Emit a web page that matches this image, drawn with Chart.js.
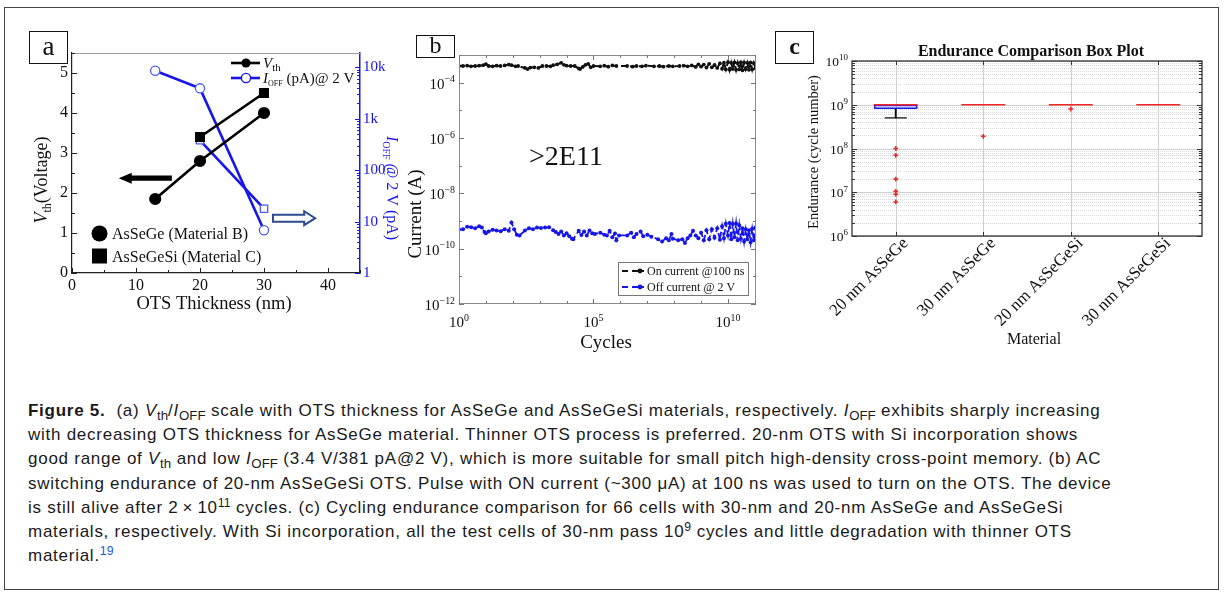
<!DOCTYPE html>
<html>
<head>
<meta charset="utf-8">
<script src="https://cdn.jsdelivr.net/npm/chart.js@4.4.1/dist/chart.umd.min.js"></script>
<style>
  body { margin: 0; background: #fff; }
  #fig { position: relative; width: 1227px; height: 596px; overflow: hidden; background: #fff; }
  #frame { position: absolute; left: 4px; top: 7px; width: 1213px; height: 581px; border: 1.5px solid #444; }
  canvas { position: absolute; }
  .tag { position: absolute; box-sizing: border-box; border: 1.3px solid #111; text-align: center;
         font-family: "Liberation Serif", serif; color: #111; }
  #caption { position: absolute; left: 28px; top: 399px; font-family: "Liberation Sans", Arial, sans-serif;
             font-size: 17px; letter-spacing: 0.74px; line-height: 24.2px; color: #1a1a1a; white-space: nowrap; }
  #caption sub { font-size: 0.78em; vertical-align: baseline; position: relative; top: 0.3em; line-height: 0; letter-spacing: 0; }
  #caption sup { font-size: 0.72em; vertical-align: baseline; position: relative; top: -0.5em; line-height: 0; letter-spacing: 0; }
  #caption .ref { color: #2255dd; }
</style>
</head>
<body>
<div id="fig">
  <div id="frame"></div>
  <canvas id="chartA" width="390" height="300" style="left:10px;top:20px"></canvas>
  <canvas id="chartB" width="370" height="340" style="left:400px;top:20px"></canvas>
  <canvas id="chartC" width="457" height="340" style="left:770px;top:20px"></canvas>
  <div class="tag" style="left:29px;top:31px;width:39px;height:33px;font-size:27px;line-height:28px">a</div>
  <div class="tag" style="left:416px;top:35px;width:39px;height:23px;font-size:24px;line-height:19px">b</div>
  <div class="tag" style="left:775px;top:31px;width:39px;height:33px;font-size:24px;line-height:29px;font-weight:bold">c</div>
  <div id="caption"><b>Figure 5.</b>&nbsp; (a) <i>V</i><sub>th</sub>/<i>I</i><sub>OFF</sub> scale with OTS thickness for AsSeGe and AsSeGeSi materials, respectively. <i>I</i><sub>OFF</sub> exhibits sharply increasing<br>with decreasing OTS thickness for AsSeGe material. Thinner OTS process is preferred. 20-nm OTS with Si incorporation shows<br>good range of <i>V</i><sub>th</sub> and low <i>I</i><sub>OFF</sub> (3.4 V/381 pA@2 V), which is more suitable for small pitch high-density cross-point memory. (b) AC<br>switching endurance of 20-nm AsSeGeSi OTS. Pulse with ON current (~300 μA) at 100 ns was used to turn on the OTS. The device<br>is still alive after 2&thinsp;×&thinsp;10<sup>11</sup> cycles. (c) Cycling endurance comparison for 66 cells with 30-nm and 20-nm AsSeGe and AsSeGeSi<br>materials, respectively. With Si incorporation, all the test cells of 30-nm pass 10<sup>9</sup> cycles and little degradation with thinner OTS<br>material.<sup class="ref">19</sup></div>
</div>

<script>
const SERIF = '"Liberation Serif", "Times New Roman", serif';
const BLUE = '#1616e8';
Chart.defaults.font.family = SERIF;
Chart.defaults.animation = false;

// ---------- (a) Vth / Ioff vs OTS thickness
const thickB = [13, 20, 30];          // AsSeGe (Material B)
const vthB = [1.85, 2.8, 4.0];
const ioffB = [8600, 3900, 6.8];      // pA
const thickC = [20, 30];              // AsSeGeSi (Material C)
const vthC = [3.4, 4.5];
const ioffC = [381, 17.8];
const aXTicks = [0, 10, 20, 30, 40];
const aYTicks = [0, 1, 2, 3, 4, 5];
const aY2Ticks = [1, 10, 100, 1000, 10000];
const aY2Labels = ['1', '10', '100', '1k', '10k'];

// ---------- (b) AC switching endurance
const onCycles = [1, 1.4, 2, 2.8, 4, 5.6, 8, 10, 12.6, 17.8, 25, 35, 50, 71, 89, 126, 158,
  282, 355, 447, 631, 891, 1.26e3, 1.78e3, 2.51e3, 3.16e3, 4.47e3, 6.31e3, 7.94e3, 1e4, 1.41e4, 2e4, 2.82e4, 3.16e4, 3.98e4, 5.01e4, 6.31e4, 7.94e4, 1e5,
  1.78e5, 2.51e5, 3.55e5, 5.01e5, 7.08e5,
  1.78e6, 2.82e6, 3.98e6, 6.31e6, 8.91e6,
  1.78e7, 2.82e7, 3.98e7, 6.31e7, 8.91e7,
  1.58e8, 2.24e8, 3.16e8, 4.47e8, 6.31e8, 7.94e8,
  1e9, 1.26e9, 1.58e9, 2e9, 2.51e9, 3.16e9, 3.98e9, 5.01e9, 6.03e9, 7.08e9, 8.32e9,
  1e10, 1.15e10, 1.32e10, 1.51e10, 1.74e10, 2e10, 2.29e10, 2.63e10, 3.02e10, 3.47e10, 3.98e10, 4.57e10, 5.25e10, 6.03e10, 6.92e10, 7.94e10, 9.12e10, 1.05e11];
const onCurrent = [4.0e-4, 4.0e-4, 4.1e-4, 3.9e-4, 4.0e-4, 4.1e-4, 4.3e-4, 4.7e-4, 4.0e-4, 3.9e-4, 4.1e-4, 4.0e-4, 4.2e-4, 4.5e-4, 4.3e-4, 3.9e-4, 4.0e-4,
  3.4e-4, 3.1e-4, 3.5e-4, 3.6e-4, 3.4e-4, 4.0e-4, 4.0e-4, 3.9e-4, 4.3e-4, 4.6e-4, 5.2e-4, 4.4e-4, 4.1e-4, 4.0e-4, 4.0e-4, 3.3e-4, 3.1e-4, 3.7e-4, 4.4e-4, 4.8e-4, 3.6e-4, 4.0e-4,
  3.9e-4, 4.1e-4, 3.8e-4, 4.2e-4, 4.0e-4,
  4.0e-4, 3.8e-4, 4.0e-4, 3.9e-4, 4.1e-4,
  3.9e-4, 4.0e-4, 3.8e-4, 4.0e-4, 3.9e-4,
  4.0e-4, 4.1e-4, 3.9e-4, 4.2e-4, 3.7e-4, 4.6e-4,
  3.8e-4, 4.5e-4, 3.5e-4, 4.8e-4, 3.6e-4, 4.4e-4, 3.4e-4, 5.0e-4, 3.2e-4, 5.3e-4, 3.0e-4,
  5.5e-4, 2.9e-4, 5.2e-4, 3.1e-4, 5.4e-4, 2.9e-4, 5.1e-4, 3.0e-4, 5.5e-4, 2.8e-4, 5.3e-4, 3.1e-4, 5.2e-4, 2.9e-4, 5.4e-4, 3.0e-4, 5.1e-4, 3.3e-4];
const offCycles = [1, 1.41, 2, 2.82, 3.98, 5.62, 7.08, 8.91, 10, 12.6, 17.8, 25.1, 35.5, 50.1, 70.8, 89.1, 112, 141, 178,
  282, 398, 562, 794, 1.12e3, 1.58e3, 2.24e3, 3.16e3, 3.98e3, 5.01e3, 6.31e3, 7.94e3, 1e4, 1.26e4, 1.58e4, 1.78e4,
  2.82e4, 3.55e4, 4.47e4, 5.62e4, 7.08e4, 8.91e4, 1.12e5,
  1.78e5, 2.51e5, 3.16e5, 3.98e5, 5.01e5, 6.31e5, 7.08e5, 8.91e5,
  1.78e6, 2.51e6, 3.16e6, 3.98e6, 5.62e6, 7.08e6, 1e7, 1.41e7,
  2.51e7, 3.55e7, 5.01e7, 6.31e7, 7.94e7, 8.91e7,
  1.41e8, 2e8, 2.51e8, 3.16e8, 3.98e8, 5.01e8, 6.31e8, 7.94e8,
  1e9, 1.26e9, 1.58e9, 2e9, 2.51e9, 3.16e9, 3.98e9, 5.01e9, 6.03e9, 7.08e9, 8.32e9, 1e10, 1.15e10, 1.32e10, 1.51e10, 1.74e10,
  2e10, 2.29e10, 2.63e10, 3.02e10, 3.47e10, 3.98e10, 4.57e10, 5.25e10, 6.03e10, 6.92e10, 7.94e10, 9.12e10, 1.05e11];
const offCurrent = [4.9e-10, 5.0e-10, 6.2e-10, 6.0e-10, 5.5e-10, 6.5e-10, 5.8e-10, 4.0e-10, 3.6e-10, 4.2e-10, 4.8e-10, 4.5e-10, 4.3e-10, 5.0e-10, 4.4e-10, 8.8e-10, 5.0e-10, 3.2e-10, 3.0e-10,
  4.5e-10, 5.5e-10, 5.0e-10, 5.8e-10, 5.6e-10, 5.8e-10, 5.9e-10, 4.6e-10, 4.0e-10, 3.4e-10, 4.2e-10, 3.0e-10, 3.6e-10, 2.8e-10, 2.3e-10, 2.2e-10,
  4.4e-10, 3.1e-10, 4.2e-10, 3.0e-10, 4.5e-10, 3.6e-10, 3.4e-10,
  3.8e-10, 3.2e-10, 3.0e-10, 4.4e-10, 2.6e-10, 3.5e-10, 2.0e-10, 3.0e-10,
  3.0e-10, 3.8e-10, 2.6e-10, 3.4e-10, 4.2e-10, 2.8e-10, 3.2e-10, 2.7e-10,
  2.2e-10, 1.8e-10, 2.4e-10, 2.0e-10, 3.4e-10, 2.3e-10,
  2.0e-10, 2.2e-10, 1.6e-10, 2.4e-10, 3.0e-10, 4.4e-10, 3.0e-10, 2.4e-10,
  3.8e-10, 2.0e-10, 4.6e-10, 2.2e-10, 5.0e-10, 2.5e-10, 5.5e-10, 2.1e-10, 6.5e-10, 2.4e-10, 8.0e-10, 3.0e-10, 8.5e-10, 2.2e-10, 7.8e-10, 2.6e-10,
  8.2e-10, 2.0e-10, 7.0e-10, 2.3e-10, 5.5e-10, 1.8e-10, 5.0e-10, 2.2e-10, 4.6e-10, 1.7e-10, 5.2e-10, 2.0e-10, 5.8e-10];
const bXTicks = [1, 1e5, 1e10];
const bXLabels = ['0', '5', '10'];
const bYTicks = [1e-12, 1e-10, 1e-8, 1e-6, 1e-4];
const bYLabels = ['\u221212', '\u221210', '\u22128', '\u22126', '\u22124'];

// ---------- (c) endurance box plot
const materials = ['20 nm AsSeGe', '30 nm AsSeGe', '20 nm AsSeGeSi', '30 nm AsSeGeSi'];
const boxLow = [8e8, 1e9, 1e9, 1e9];
const boxHigh = [1e9, 1e9, 1e9, 1e9];
const medians = [1e9, 1e9, 1e9, 1e9];
const whiskerLow = [5e8, 1e9, 1e9, 1e9];
const outliers = [[1e8, 7e7, 2e7, 1.05e7, 9e6, 6e6], [1.9e8], [8e8], []];
const cYTicks = [1e6, 1e7, 1e8, 1e9, 1e10];
const cYLabels = ['6', '7', '8', '9', '10'];

// ---------- helpers
function pts(xs, ys) { return xs.map((x, i) => ({ x: x, y: ys[i] })); }
function T(t, size, style, dy) { return { t: t, size: size, style: style || '', dy: dy || 0 }; }

function rich(ctx, parts, x, y, opt) {
  opt = opt || {};
  ctx.save();
  ctx.translate(x, y);
  if (opt.rot) ctx.rotate(opt.rot);
  ctx.fillStyle = opt.color || '#111';
  ctx.textAlign = 'left';
  ctx.textBaseline = 'alphabetic';
  const fonts = parts.map(p => p.style + ' ' + p.size + 'px ' + SERIF);
  let total = 0;
  const ws = parts.map((p, i) => { ctx.font = fonts[i]; const w = ctx.measureText(p.t).width; total += w; return w; });
  let cx = opt.align === 'center' ? -total / 2 : opt.align === 'right' ? -total : 0;
  parts.forEach((p, i) => { ctx.font = fonts[i]; ctx.fillText(p.t, cx, p.dy); cx += ws[i]; });
  ctx.restore();
}

function pow10(ctx, exp, x, y, align, size) {
  rich(ctx, [T('10', size), T(exp, size * 0.66, '', -size * 0.42)], x, y, { align: align });
}

function inTicks(ctx, scale, area, vals, len, sides, color, w) {
  ctx.save();
  ctx.strokeStyle = color;
  ctx.lineWidth = w || 1;
  ctx.beginPath();
  vals.forEach(v => {
    const p = Math.round(scale.getPixelForValue(v)) + 0.5;
    sides.forEach(s => {
      if (s === 'bottom') { ctx.moveTo(p, area.bottom); ctx.lineTo(p, area.bottom - len); }
      if (s === 'top') { ctx.moveTo(p, area.top); ctx.lineTo(p, area.top + len); }
      if (s === 'left') { ctx.moveTo(area.left, p); ctx.lineTo(area.left + len, p); }
      if (s === 'right') { ctx.moveTo(area.right, p); ctx.lineTo(area.right - len, p); }
    });
  });
  ctx.stroke();
  ctx.restore();
}

function logMinors(decades, max) {
  const out = [];
  decades.forEach(d => { for (let k = 2; k <= 9; k++) if (d * k <= max) out.push(d * k); });
  return out;
}

const setTicks = vals => s => { s.ticks = vals.map(v => ({ value: v })); };

// ================= chart (a)
const panelA = {
  id: 'panelA',
  afterDraw(chart) {
    const { ctx, chartArea: a, scales: { x, y, y2 } } = chart;
    ctx.save();
    ctx.strokeStyle = '#9a9a9a';
    ctx.lineWidth = 1;
    ctx.beginPath(); ctx.moveTo(a.left, a.top + 0.5); ctx.lineTo(a.right, a.top + 0.5); ctx.stroke();
    ctx.restore();

    inTicks(ctx, x, a, aXTicks, 5, ['bottom'], '#222');
    inTicks(ctx, x, a, aXTicks.map(v => v + 5), 3, ['bottom'], '#222');
    inTicks(ctx, y, a, aYTicks, 5, ['left'], '#222');
    inTicks(ctx, y, a, aYTicks.map(v => v + 0.5), 3, ['left'], '#222');
    inTicks(ctx, y2, a, aY2Ticks, 5, ['right'], BLUE, 1.2);
    inTicks(ctx, y2, a, logMinors(aY2Ticks, y2.max), 3, ['right'], BLUE, 1);

    // black arrow pointing to the left axis
    const bx1 = x.getPixelForValue(7.3), bx2 = x.getPixelForValue(15.6), by = y.getPixelForValue(2.37);
    ctx.save();
    ctx.fillStyle = '#000';
    ctx.beginPath();
    ctx.moveTo(bx1, by); ctx.lineTo(bx1 + 13, by - 5.5); ctx.lineTo(bx1 + 13, by - 2.6);
    ctx.lineTo(bx2, by - 2.6); ctx.lineTo(bx2, by + 2.6); ctx.lineTo(bx1 + 13, by + 2.6);
    ctx.lineTo(bx1 + 13, by + 5.5); ctx.closePath(); ctx.fill();
    // hollow blue arrow pointing to the right axis
    const rx1 = x.getPixelForValue(31.4), rx2 = x.getPixelForValue(38), ry = y.getPixelForValue(1.37);
    ctx.strokeStyle = '#2c4a8c'; ctx.fillStyle = '#fff'; ctx.lineWidth = 2;
    ctx.beginPath();
    ctx.moveTo(rx1, ry - 3.5); ctx.lineTo(rx2 - 11, ry - 3.5); ctx.lineTo(rx2 - 11, ry - 7);
    ctx.lineTo(rx2, ry); ctx.lineTo(rx2 - 11, ry + 7); ctx.lineTo(rx2 - 11, ry + 3.5);
    ctx.lineTo(rx1, ry + 3.5); ctx.closePath(); ctx.fill(); ctx.stroke();
    ctx.restore();

    // annotations in page coordinates
    ctx.save();
    ctx.translate(-10, -20);
    // top-right legend
    ctx.lineWidth = 2.6;
    ctx.strokeStyle = '#000';
    ctx.beginPath(); ctx.moveTo(231, 63); ctx.lineTo(260, 63); ctx.stroke();
    ctx.fillStyle = '#000';
    ctx.beginPath(); ctx.arc(246, 63, 4.6, 0, Math.PI * 2); ctx.fill();
    rich(ctx, [T('V', 15, 'italic'), T('th', 11, '', 3)], 263, 68, { color: '#111' });
    ctx.strokeStyle = BLUE;
    ctx.beginPath(); ctx.moveTo(231, 78); ctx.lineTo(260, 78); ctx.stroke();
    ctx.fillStyle = '#fff'; ctx.lineWidth = 1.4;
    ctx.beginPath(); ctx.arc(246, 78, 4.6, 0, Math.PI * 2); ctx.fill(); ctx.stroke();
    rich(ctx, [T('I', 15, 'italic'), T('OFF', 8, '', 3), T(' (pA)@ 2 V', 15)], 263, 83, { color: '#111' });
    // bottom-left legend
    ctx.fillStyle = '#000';
    ctx.beginPath(); ctx.arc(99.5, 233.5, 8, 0, Math.PI * 2); ctx.fill();
    ctx.fillRect(92, 248.5, 15, 15);
    rich(ctx, [T('AsSeGe (Material B)', 16)], 112, 239, { color: '#111' });
    rich(ctx, [T('AsSeGeSi (Material C)', 16)], 112, 261.5, { color: '#111' });
    // axis titles
    rich(ctx, [T('OTS Thickness (nm)', 18.5)], 214, 309, { align: 'center', color: '#111' });
    rich(ctx, [T('V', 18, 'italic'), T('th', 12, '', 4), T('(Voltage)', 18)], 46.5, 180, { align: 'center', rot: -Math.PI / 2, color: '#111' });
    rich(ctx, [T('I', 16, 'italic'), T('OFF', 10, '', 4), T(' @ 2 V (pA)', 16)], 387, 188, { align: 'center', rot: Math.PI / 2, color: BLUE });
    ctx.restore();
  }
};

new Chart(document.getElementById('chartA'), {
  type: 'line',
  data: {
    datasets: [
      { data: pts(thickB, vthB), yAxisID: 'y', borderColor: '#000', borderWidth: 2.6,
        pointStyle: 'circle', pointRadius: 4.8, pointBackgroundColor: '#000', pointBorderColor: '#000' },
      { data: pts(thickC, vthC), yAxisID: 'y', borderColor: '#000', borderWidth: 2.6,
        pointStyle: 'rect', pointRadius: 5.2, pointBackgroundColor: '#000', pointBorderColor: '#000' },
      { data: pts(thickB, ioffB), yAxisID: 'y2', borderColor: BLUE, borderWidth: 2.6,
        pointStyle: 'circle', pointRadius: 4.6, pointBackgroundColor: '#fff', pointBorderColor: '#4a5af0', pointBorderWidth: 1.3 },
      { data: pts(thickC, ioffC), yAxisID: 'y2', borderColor: BLUE, borderWidth: 2.6,
        pointStyle: 'rect', pointRadius: 5.2, pointBackgroundColor: '#fff', pointBorderColor: '#4a5af0', pointBorderWidth: 1.3 }
    ]
  },
  options: {
    responsive: false,
    layout: { padding: { top: 33, left: 0, right: 0, bottom: 0 } },
    plugins: { legend: { display: false }, tooltip: { enabled: false } },
    scales: {
      x: {
        type: 'linear', min: 0, max: 45, afterBuildTicks: setTicks(aXTicks), afterFit: s => { s.height = 47; },
        grid: { display: true, drawOnChartArea: false, drawTicks: false },
        border: { color: '#222', width: 1.2 },
        ticks: { color: '#111', font: { size: 16 }, padding: 3, maxRotation: 0 }
      },
      y: {
        type: 'linear', position: 'left', min: 0, max: 5.5, afterBuildTicks: setTicks(aYTicks), afterFit: s => { s.width = 62; },
        grid: { display: true, drawOnChartArea: false, drawTicks: false },
        border: { color: '#222', width: 1.2 },
        ticks: { color: '#111', font: { size: 16 }, padding: 4 }
      },
      y2: {
        type: 'logarithmic', position: 'right', min: 1, max: 19000, afterBuildTicks: setTicks(aY2Ticks), afterFit: s => { s.width = 40; },
        grid: { display: true, drawOnChartArea: false, drawTicks: false },
        border: { color: BLUE, width: 1.5 },
        ticks: { color: BLUE, font: { size: 15 }, padding: 3, callback: v => aY2Labels[aY2Ticks.indexOf(v)] }
      }
    }
  },
  plugins: [panelA]
});

// ================= chart (b)
const panelB = {
  id: 'panelB',
  afterDraw(chart) {
    const { ctx, chartArea: a, scales: { x, y } } = chart;
    ctx.save();
    ctx.strokeStyle = '#8c8c8c'; ctx.lineWidth = 1;
    ctx.strokeRect(a.left + 0.5, a.top + 0.5, a.width - 1, a.height - 1);
    ctx.restore();
    const yMinor = [1e-11, 1e-9, 1e-7, 1e-5, 1e-3];
    const xMinor = [];
    for (let e = 1; e <= 11; e++) if (e % 5 !== 0) xMinor.push(Math.pow(10, e));
    inTicks(ctx, y, a, bYTicks, 5, ['left', 'right'], '#777');
    inTicks(ctx, y, a, yMinor, 3, ['left', 'right'], '#777');
    inTicks(ctx, x, a, bXTicks, 5, ['bottom', 'top'], '#777');
    inTicks(ctx, x, a, xMinor, 3, ['bottom', 'top'], '#777');

    bYTicks.forEach((v, i) => pow10(ctx, bYLabels[i], a.left - 4, y.getPixelForValue(v) + 6, 'right', 15));
    bXTicks.forEach((v, i) => pow10(ctx, bXLabels[i], x.getPixelForValue(v), a.bottom + 23, 'center', 15));

    ctx.save();
    ctx.translate(-400, -20);
    rich(ctx, [T('Cycles', 19)], 606, 348, { align: 'center' });
    rich(ctx, [T('Current (A)', 19)], 421, 214, { align: 'center', rot: -Math.PI / 2 });
    rich(ctx, [T('>2E11', 28)], 566, 165, { align: 'center' });
    // legend
    ctx.fillStyle = '#fff'; ctx.strokeStyle = '#777'; ctx.lineWidth = 1;
    ctx.fillRect(618, 262, 130, 33); ctx.strokeRect(618.5, 262.5, 130, 33);
    [['#111', 'On current @100 ns', 271], [BLUE, 'Off current @ 2 V', 287]].forEach(r => {
      ctx.strokeStyle = r[0]; ctx.fillStyle = r[0]; ctx.lineWidth = 2;
      ctx.beginPath(); ctx.moveTo(622, r[2]); ctx.lineTo(628, r[2]); ctx.moveTo(632, r[2]); ctx.lineTo(644, r[2]); ctx.stroke();
      ctx.beginPath(); ctx.arc(640, r[2], 2.4, 0, Math.PI * 2); ctx.fill();
      rich(ctx, [T(r[1], 12)], 647, r[2] + 4, {});
    });
    ctx.restore();
  }
};

new Chart(document.getElementById('chartB'), {
  type: 'line',
  data: {
    datasets: [
      { data: pts(onCycles, onCurrent), borderColor: '#111', borderWidth: 2, borderDash: [6, 3],
        pointRadius: 1.9, pointBackgroundColor: '#111', pointBorderWidth: 0 },
      { data: pts(offCycles, offCurrent), borderColor: BLUE, borderWidth: 1.8, borderDash: [6, 3],
        pointRadius: 2, pointBackgroundColor: BLUE, pointBorderWidth: 0 }
    ]
  },
  options: {
    responsive: false,
    layout: { padding: { top: 35, left: 0, right: 14, bottom: 0 } },
    plugins: { legend: { display: false }, tooltip: { enabled: false } },
    scales: {
      x: {
        type: 'logarithmic', min: 1, max: 1.1e11, afterBuildTicks: setTicks(bXTicks), afterFit: s => { s.height = 56; },
        grid: { display: false }, border: { display: false }, ticks: { display: false }
      },
      y: {
        type: 'logarithmic', min: 1e-12, max: 1e-3, afterBuildTicks: setTicks(bYTicks), afterFit: s => { s.width = 59; },
        grid: { display: false }, border: { display: false }, ticks: { display: false }
      }
    }
  },
  plugins: [panelB]
});

// ================= chart (c)
const panelC = {
  id: 'panelC',
  beforeDatasetsDraw(chart) {
    const { ctx, chartArea: a, scales: { x, y } } = chart;
    ctx.save();
    ctx.lineWidth = 1;
    ctx.strokeStyle = '#d9d9d9';
    ctx.setLineDash([1, 1]);
    ctx.beginPath();
    logMinors(cYTicks.slice(0, -1), 1e10).forEach(v => {
      const p = Math.round(y.getPixelForValue(v)) + 0.5;
      ctx.moveTo(a.left, p); ctx.lineTo(a.right, p);
    });
    ctx.stroke();
    ctx.setLineDash([]);
    ctx.strokeStyle = '#cfcfcf';
    ctx.beginPath();
    cYTicks.forEach(v => {
      const p = Math.round(y.getPixelForValue(v)) + 0.5;
      ctx.moveTo(a.left, p); ctx.lineTo(a.right, p);
    });
    materials.forEach((m, i) => {
      const p = Math.round(x.getPixelForValue(i)) + 0.5;
      ctx.moveTo(p, a.top); ctx.lineTo(p, a.bottom);
    });
    ctx.stroke();
    ctx.restore();
  },
  afterDraw(chart) {
    const { ctx, chartArea: a, scales: { x, y } } = chart;
    ctx.save();
    ctx.strokeStyle = '#333'; ctx.lineWidth = 1.3;
    ctx.strokeRect(a.left, a.top, a.width, a.height);
    ctx.restore();
    const idx = materials.map((m, i) => i);
    inTicks(ctx, y, a, cYTicks, 5, ['left', 'right'], '#333');
    inTicks(ctx, y, a, logMinors(cYTicks.slice(0, -1), 1e10), 3, ['left', 'right'], '#333');
    inTicks(ctx, x, a, idx, 4, ['bottom', 'top'], '#333');

    cYTicks.forEach((v, i) => pow10(ctx, cYLabels[i], a.left - 4, y.getPixelForValue(v) + 5, 'right', 13.5));
    materials.forEach((m, i) => {
      rich(ctx, [T(m, 17)], x.getPixelForValue(i) + 13, a.bottom + 8, { align: 'right', rot: -Math.PI / 4 });
    });

    ctx.save();
    ctx.translate(-770, -20);
    rich(ctx, [T('Endurance Comparison Box Plot', 16, 'bold')], 1031, 56, { align: 'center' });
    rich(ctx, [T('Endurance (cycle number)', 14.5)], 818, 152, { align: 'center', rot: -Math.PI / 2 });
    rich(ctx, [T('Material', 16)], 1034, 344, { align: 'center' });
    ctx.restore();
  }
};

const medianPts = materials.map((m, i) => ({ x: m, y: medians[i] }));
const capPts = materials.map((m, i) => ({ x: m, y: whiskerLow[i] < boxLow[i] ? whiskerLow[i] : null }));
const outlierPts = [];
outliers.forEach((list, i) => list.forEach(v => outlierPts.push({ x: materials[i], y: v })));

new Chart(document.getElementById('chartC'), {
  type: 'bar',
  data: {
    labels: materials,
    datasets: [
      { type: 'line', data: medianPts, showLine: false, pointStyle: 'line', pointRadius: 22,
        pointBorderColor: '#f02828', pointBorderWidth: 1.6 },
      { type: 'line', data: outlierPts, showLine: false, pointStyle: 'cross', pointRadius: 2.4,
        pointBorderColor: '#f02828', pointBorderWidth: 1.6 },
      { type: 'line', data: capPts, showLine: false, pointStyle: 'line', pointRadius: 11,
        pointBorderColor: '#111', pointBorderWidth: 1.4 },
      { type: 'bar', data: materials.map((m, i) => [boxLow[i], boxHigh[i]]), grouped: false,
        barPercentage: 0.5, categoryPercentage: 1, backgroundColor: 'rgba(0,0,0,0)',
        borderColor: '#1a1ae8', borderWidth: 1.6, borderSkipped: false },
      { type: 'bar', data: materials.map((m, i) => [whiskerLow[i], boxLow[i]]), grouped: false,
        barThickness: 1.3, backgroundColor: '#111', borderWidth: 0 }
    ]
  },
  options: {
    responsive: false,
    layout: { padding: { top: 41, left: 0, right: 25, bottom: 0 } },
    plugins: { legend: { display: false }, tooltip: { enabled: false } },
    scales: {
      x: {
        type: 'category', offset: true, afterFit: s => { s.height = 124; },
        grid: { display: false }, border: { display: false }, ticks: { display: false }
      },
      y: {
        type: 'logarithmic', min: 1e6, max: 1e10, afterBuildTicks: setTicks(cYTicks), afterFit: s => { s.width = 82; },
        grid: { display: false }, border: { display: false }, ticks: { display: false }
      }
    }
  },
  plugins: [panelC]
});
</script>
</body>
</html>
